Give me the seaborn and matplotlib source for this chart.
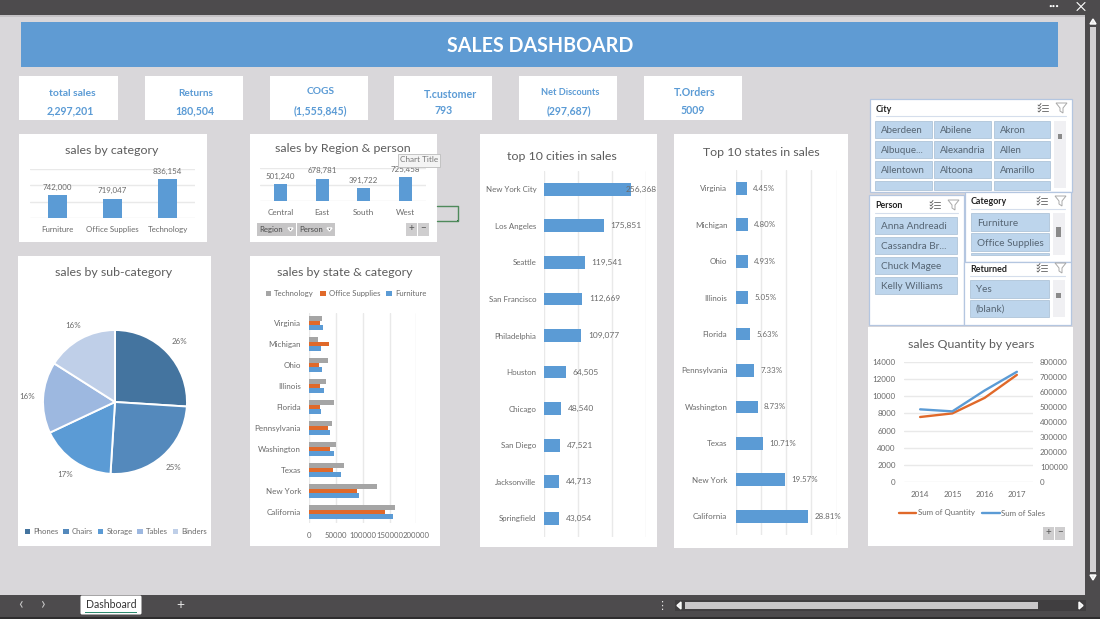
import matplotlib
matplotlib.use("Agg")
import matplotlib.pyplot as plt
from matplotlib.patches import Rectangle, Polygon, FancyBboxPatch
from matplotlib.lines import Line2D
import seaborn as sns

# ---------- data ----------
category_names = ["Furniture", "Office Supplies", "Technology"]
category_sales = [742000, 719047, 836154]
region_names = ["Central", "East", "South", "West"]
region_sales = [501240, 678781, 391722, 725458]
sub_names = ["Phones", "Chairs", "Storage", "Tables", "Binders"]
sub_share = [26, 25, 17, 16, 16]
state_names = ["Virginia", "Michigan", "Ohio", "Illinois", "Florida",
               "Pennsylvania", "Washington", "Texas", "New York", "California"]
state_tech = [23600, 16000, 35400, 31700, 46600, 42000, 50300, 64600, 127000, 159600]
state_office = [21000, 38000, 19000, 19900, 19900, 35000, 39000, 44000, 89400, 142000]
state_furn = [25500, 21700, 23600, 28000, 22400, 38500, 47200, 59600, 93800, 156500]
state_share = [4.45, 4.80, 4.93, 5.05, 5.63, 7.33, 8.73, 10.71, 19.57, 28.81]
city_names = ["New York City", "Los Angeles", "Seattle", "San Francisco", "Philadelphia",
              "Houston", "Chicago", "San Diego", "Jacksonville", "Springfield"]
city_sales = [256368, 175851, 119541, 112669, 109077, 64505, 48540, 47521, 44713, 43054]
years = ["2014", "2015", "2016", "2017"]
year_quantity = [7580, 8000, 9800, 12470]
year_sales = [484000, 470500, 609000, 733000]
kpi_titles = ["total sales", "Returns", "COGS", "T.customer", "Net Discounts", "T.Orders"]
kpi_values = ["2,297,201", "180,504", "(1,555,845)", "793", "(297,687)", "5009"]
slicer_city = ["Aberdeen", "Abilene", "Akron", "Albuque...", "Alexandria", "Allen",
               "Allentown", "Altoona", "Amarillo"]
slicer_person = ["Anna Andreadi", "Cassandra Br...", "Chuck Magee", "Kelly Williams"]
slicer_category = ["Furniture", "Office Supplies"]
slicer_returned = ["Yes", "(blank)"]

# ---------- style ----------
sns.set_theme(style="white")
FONT = ["Lato", "DejaVu Sans"]
plt.rcParams["font.family"] = FONT
W, H = 1100, 619
BLUE = "#5B9BD5"
ORANGE = "#E0692A"
GREY = "#A5A5A5"
TXT = "#6A6A6A"
TITLE = "#5C5C5C"
GRID = "#E9E9E9"
SHEET = "#D9D7DA"
DARK = "#4D4B4D"

fig = plt.figure(figsize=(W / 100, H / 100), dpi=100, facecolor=SHEET)


def overlay(z):
    a = fig.add_axes([0, 0, 1, 1], zorder=z)
    a.set_xlim(0, W)
    a.set_ylim(H, 0)
    a.axis("off")
    a.patch.set_alpha(0)
    return a


bg = overlay(0)
fg = overlay(10)


def box(a, x0, y0, x1, y1, fc="white", ec="none", lw=0.8, z=1):
    a.add_patch(Rectangle((x0, y0), x1 - x0, y1 - y0, fc=fc, ec=ec, lw=lw, zorder=z))


def label(a, x, y, s, size=6.5, color=TXT, ha="center", weight="normal", z=5):
    a.text(x, y, s, fontsize=size, color=color, ha=ha, va="center", weight=weight, zorder=z)


def ax_px(x0, y0, x1, y1):
    a = fig.add_axes([x0 / W, 1 - y1 / H, (x1 - x0) / W, (y1 - y0) / H], zorder=2)
    a.patch.set_alpha(0)
    for s in a.spines.values():
        s.set_visible(False)
    a.tick_params(length=0, labelsize=5.8, labelcolor=TXT, pad=2)
    return a


# ---------- window chrome ----------
box(bg, 0, 0, W, 15, fc=DARK)
box(bg, 0, 595, W, H, fc=DARK)
box(bg, 0, 617, W, H, fc="#2E2D2E", z=2)
box(bg, 1085, 0, W, H, fc=DARK)
box(bg, 1090, 27, 1096, 572, fc="#D2D0D2", z=2)
bg.add_patch(Polygon([(1090, 24), (1096, 24), (1093, 19)], fc="#E6E6E6", zorder=2))
bg.add_patch(Polygon([(1090, 575), (1096, 575), (1093, 580)], fc="#E6E6E6", zorder=2))
box(bg, 0, 15, 1085, 17, fc="#C4C2C5", z=2)
label(bg, 1054, 6, "•••", size=4.5, color="white")
bg.plot([1077, 1085], [2.5, 10.5], color="white", lw=0.8, zorder=3)
bg.plot([1077, 1085], [10.5, 2.5], color="white", lw=0.8, zorder=3)
label(bg, 20, 604.5, "‹", size=12, color="#C9C9C9")
label(bg, 43, 604.5, "›", size=12, color="#C9C9C9")
bg.add_patch(FancyBboxPatch((82, 597), 58, 16, boxstyle="round,pad=1.5", fc="white", ec="none", zorder=2))
box(bg, 85, 611.5, 137, 613, fc="#2E8B6F", z=3)
label(bg, 111, 604.5, "Dashboard", size=7.6, color="#333333")
label(bg, 180, 605, "+", size=10, color="#E6E6E6")
label(bg, 662, 605, "⋮", size=8, color="#E6E6E6")
box(bg, 675, 600, 1086, 611, fc="#403E40", z=2)
box(bg, 685, 602, 1038, 609, fc="#C9C7C9", z=3)
bg.add_patch(Polygon([(681, 602), (681, 609), (677, 605.5)], fc="#E6E6E6", zorder=3))
bg.add_patch(Polygon([(1079, 602), (1079, 609), (1083, 605.5)], fc="#E6E6E6", zorder=3))

# ---------- banner ----------
box(bg, 21, 22, 1058, 67, fc="#5F9BD3")
label(bg, 540, 45.5, "SALES DASHBOARD", size=14.1, color="white", weight="bold")

# ---------- KPI cards ----------
kpi_x = [(19, 118), (145, 243), (270, 368), (394, 492), (519, 617), (644, 742)]
kpi_tx = [72, 196, 321, 450, 570, 695]
kpi_vx = [70.5, 195, 320, 443.5, 569, 693]
kpi_ty = [93, 93.5, 92, 94, 92.5, 93]
kpi_sz = [7.5, 7.2, 7.4, 7.7, 6.6, 7.7]
for (x0, x1), tx, vx, ty, sz, t, v in zip(kpi_x, kpi_tx, kpi_vx, kpi_ty, kpi_sz, kpi_titles, kpi_values):
    box(bg, x0, 76, x1, 120)
    label(bg, tx, ty, t, size=sz, color=BLUE, weight="bold")
    label(bg, vx, 110.5, v, size=7.6, color=BLUE, weight="bold")

# ---------- chart cards ----------
for c in [(19, 134, 207, 242), (250, 134, 437, 242), (18, 256, 211, 546), (250, 256, 440, 546),
          (480, 134, 657, 547), (674, 134, 848, 548), (868, 327, 1073, 546)]:
    box(bg, *c)
for x, y, t in [(112, 150, "sales by category"), (343, 149, "sales by Region & person"),
                (114, 272, "sales by sub-category"), (345, 272, "sales by state & category"),
                (562, 156.5, "top 10 cities in sales"), (761, 152, "Top 10 states in sales"),
                (971, 344, "sales Quantity by years")]:
    label(bg, x, y, t, size=8.9, color=TITLE)

# ---------- sales by category ----------
ax = ax_px(30, 169, 195, 218)
sns.barplot(x=category_names, y=category_sales, color=BLUE, saturation=1, width=0.33, linewidth=0, ax=ax)
ax.set_ylim(600000, 900000)
ax.set_yticks([600000, 700000, 800000, 900000])
ax.tick_params(axis="y", labelleft=False)
ax.grid(axis="y", color=GRID, lw=1)
ax.set_axisbelow(True)
ax.tick_params(axis="x", pad=5.5, labelsize=5.7)
ax.bar_label(ax.containers[0], labels=[f"{v:,}" for v in category_sales], padding=3, fontsize=5.7, color=TXT)

# ---------- sales by region ----------
ax = ax_px(260, 168, 426, 201)
sns.barplot(x=region_names, y=region_sales, color=BLUE, saturation=1, width=0.32, linewidth=0, ax=ax)
ax.set_ylim(0, 1000000)
ax.set_yticks([0, 500000, 1000000])
ax.tick_params(axis="y", labelleft=False)
ax.grid(axis="y", color=GRID, lw=1)
ax.set_axisbelow(True)
ax.tick_params(axis="x", pad=5.5, labelsize=5.9)
ax.bar_label(ax.containers[0], labels=[f"{v:,}" for v in region_sales], padding=3, fontsize=5.7, color=TXT)

# pivot buttons, tooltip, selection handles
for x0, x1, t in [(257, 296, "Region"), (297, 335, "Person")]:
    box(fg, x0, 223, x1, 236, fc="#C6C5C6")
    label(fg, x0 + 2, 229.5, t, size=5.6, color="#4A4A4A", ha="left")
    fg.add_patch(Polygon([(x1 - 8, 228), (x1 - 3, 228), (x1 - 5.5, 231)], fc="#222222", zorder=6))
for x0, x1, s in [(406, 417, "+"), (418, 429, "−"), (1043, 1054, "+"), (1055, 1065, "−")]:
    y0 = 223 if x0 < 500 else 527
    box(fg, x0, y0, x1, y0 + 13, fc="#CFCECF")
    label(fg, (x0 + x1) / 2, y0 + 6, s, size=7, color="#555555")
box(fg, 398, 154, 440, 167, fc="#F4F4F4", ec="#BDBDBD", lw=0.6)
label(fg, 419, 160, "Chart Title", size=5.9, color="#777777")
fg.plot([437, 458, 458, 437], [206, 206, 221, 221], color="#4F8A5B", lw=1, zorder=3)
box(fg, 457, 220, 459, 222, fc="#1E6B34")

# ---------- pie ----------
ax = ax_px(25, 312, 205, 492)
pie_colors = ["#44749F", "#5489BC", "#5B9BD5", "#9DB8E0", "#BFCFE8"]
ax.pie(sub_share, colors=pie_colors, startangle=90, counterclock=False,
       autopct="%d%%", pctdistance=1.22,
       wedgeprops={"edgecolor": "white", "linewidth": 1.4},
       textprops={"fontsize": 5.8, "color": TXT})
handles = [Rectangle((0, 0), 1, 1, fc=c, lw=0) for c in pie_colors]
fig.legend(handles, sub_names, ncol=5, loc="center", bbox_to_anchor=(116 / W, 1 - 531.5 / H),
           frameon=False, fontsize=5.6, labelcolor=TXT, handlelength=0.7, handleheight=0.7,
           handletextpad=0.4, columnspacing=0.6, borderpad=0)

# ---------- state & category ----------
ax = ax_px(309, 312.5, 416.5, 522.5)
names3 = state_names * 3
vals3 = state_tech + state_office + state_furn
hue3 = ["Technology"] * 10 + ["Office Supplies"] * 10 + ["Furniture"] * 10
hue_pal = {"Technology": GREY, "Office Supplies": ORANGE, "Furniture": BLUE}
sns.barplot(y=names3, x=vals3, hue=hue3, palette=hue_pal, saturation=1, width=0.66, linewidth=0,
            order=state_names, orient="h", legend=False, ax=ax)
ax.set_xlim(0, 200000)
ax.set_xticks([0, 50000, 100000, 150000, 200000])
ax.set_xticklabels(["0", "50000", "100000", "150000", "200000"])
ax.grid(axis="x", color=GRID, lw=1)
ax.set_axisbelow(True)
ax.tick_params(axis="y", pad=5.8, labelsize=5.8)
ax.tick_params(axis="x", pad=6.5, labelsize=5.6)
handles = [Rectangle((0, 0), 1, 1, fc=c, lw=0) for c in hue_pal.values()]
fig.legend(handles, list(hue_pal), ncol=3, loc="center", bbox_to_anchor=(346 / W, 1 - 293.5 / H),
           frameon=False, fontsize=5.6, labelcolor=TXT, handlelength=0.7, handleheight=0.7,
           handletextpad=0.4, columnspacing=0.8, borderpad=0)

# ---------- top cities ----------
ax = ax_px(544, 171, 646, 536.6)
sns.barplot(y=city_names, x=city_sales, color=BLUE, saturation=1, width=0.35, linewidth=0, orient="h", ax=ax)
ax.set_xlim(0, 300000)
ax.set_xticks([0, 100000, 200000, 300000])
ax.tick_params(axis="x", labelbottom=False)
ax.grid(axis="x", color=GRID, lw=1)
ax.set_axisbelow(True)
ax.tick_params(axis="y", pad=5.5, labelsize=5.7)
texts = ax.bar_label(ax.containers[0], labels=[f"{v:,}" for v in city_sales], padding=5,
                     fontsize=6.0, color=TXT)
texts[0].xyann = (-4, 0)

# ---------- top states ----------
ax = ax_px(735.7, 170, 836.7, 534.5)
sns.barplot(y=state_names, x=state_share, color=BLUE, saturation=1, width=0.35, linewidth=0, orient="h", ax=ax)
ax.set_xlim(0, 40)
ax.set_xticks([0, 10, 20, 30, 40])
ax.tick_params(axis="x", labelbottom=False)
ax.grid(axis="x", color=GRID, lw=1)
ax.set_axisbelow(True)
ax.tick_params(axis="y", pad=6, labelsize=5.8)
ax.bar_label(ax.containers[0], labels=[f"{v:.2f}%" for v in state_share], padding=4.5,
             fontsize=5.7, color=TXT)

# ---------- quantity & sales by year ----------
ax = ax_px(904, 361.7, 1033, 482.3)
sns.lineplot(x=years, y=year_quantity, color=ORANGE, lw=1.7, ax=ax)
ax.set_xlim(-0.5, 3.5)
ax.set_ylim(0, 14000)
ax.set_yticks(range(0, 14001, 2000))
ax.grid(axis="y", color=GRID, lw=1)
ax.set_axisbelow(True)
ax.tick_params(axis="x", pad=6)
ax.tick_params(axis="y", pad=6)
ax2 = ax.twinx()
ax2.patch.set_alpha(0)
for s in ax2.spines.values():
    s.set_visible(False)
sns.lineplot(x=years, y=year_sales, color=BLUE, lw=1.7, ax=ax2)
ax2.set_ylim(0, 800000)
ax2.set_yticks(range(0, 800001, 100000))
ax2.tick_params(length=0, labelsize=5.8, labelcolor=TXT, pad=5)
ax2.set_ylabel("")
ax2.grid(False)
fig.legend([Line2D([], [], color=ORANGE, lw=1.7), Line2D([], [], color=BLUE, lw=1.7)],
           ["Sum of Quantity", "Sum of Sales"], ncol=2, loc="center",
           bbox_to_anchor=(972 / W, 1 - 513 / H), frameon=False, fontsize=5.7, labelcolor=TXT,
           handlelength=2.2, handletextpad=0.2, columnspacing=1.0, borderpad=0)


# ---------- slicers ----------
def slicer_head(a, x0, x1, y, title):
    label(a, x0, y + 1, title, size=6.4, color="#222222", ha="left", weight="bold", z=8)
    ix, fx = x1 - 32, x1 - 14
    for dy in (-3, 0, 3):
        a.plot([ix + 4, ix + 10], [y + dy, y + dy], color="#777777", lw=0.7, zorder=8)
        a.plot([ix, ix + 1, ix + 3], [y + dy, y + dy + 1, y + dy - 1.5], color="#555555", lw=0.6, zorder=8)
    a.add_patch(Polygon([(fx, y - 5), (fx + 11, y - 5), (fx + 7, y), (fx + 7, y + 5), (fx + 4, y + 3), (fx + 4, y)],
                        fc="none", ec="#A9A9A9", lw=0.7, zorder=8))
    a.plot([x0, x1 - 4], [y + 8, y + 8], color="#D5DEEC", lw=0.8, zorder=8)


def button(a, x0, y0, x1, y1, t, size=7.0):
    box(a, x0, y0, x1, y1, fc="#BDD5EC", ec="#A6BDD3", lw=0.5, z=7)
    if t:
        label(a, x0 + 6, (y0 + y1) / 2 + 1, t, size=size, color="#566573", ha="left", z=8)


def panel(a, x0, y0, x1, y1, z=6):
    box(a, x0, y0, x1, y1, fc="white", ec="#B4C6E0", lw=0.9, z=z)


panel(fg, 870, 99, 1072, 192)
slicer_head(fg, 876, 1070, 108, "City")
cols = [(875, 932), (934, 991), (994, 1050)]
for i, t in enumerate(slicer_city):
    xr = cols[i % 3]
    y0 = 121 + 20 * (i // 3)
    button(fg, xr[0], y0, xr[1], y0 + 17, t)
for xr in cols:
    button(fg, xr[0], 181, xr[1], 190, "")
box(fg, 1054, 121, 1066, 188, fc="#F0F0F3", z=7)
box(fg, 1058, 134, 1062, 139, fc="#8A8A8A", z=8)

panel(fg, 869, 195, 964, 325)
slicer_head(fg, 875, 962, 205, "Person")
for i, t in enumerate(slicer_person):
    y0 = 217 + 20 * i
    button(fg, 875, y0, 957, y0 + 17, t, size=7.2)

panel(fg, 965, 192, 1071, 262)
slicer_head(fg, 971, 1069, 201, "Category")
for i, t in enumerate(slicer_category):
    y0 = 213 + 20 * i
    button(fg, 971, y0, 1049, y0 + 18, t, size=7.2)
button(fg, 971, 253, 1049, 255, "")
box(fg, 1053, 213, 1065, 255, fc="#F0F0F3", z=7)
box(fg, 1056, 227, 1061, 237, fc="#8A8A8A", z=8)

panel(fg, 964, 262, 1071, 325)
slicer_head(fg, 970, 1069, 268, "Returned")
for i, t in enumerate(slicer_returned):
    y0 = 280 + 20 * i
    button(fg, 970, y0, 1049, y0 + 18 - i, t, size=7.2)
box(fg, 1053, 280, 1065, 317, fc="#F0F0F3", z=7)
box(fg, 1056, 293, 1061, 298, fc="#8A8A8A", z=8)

fig.savefig("out.png", dpi=100, facecolor=fig.get_facecolor())
